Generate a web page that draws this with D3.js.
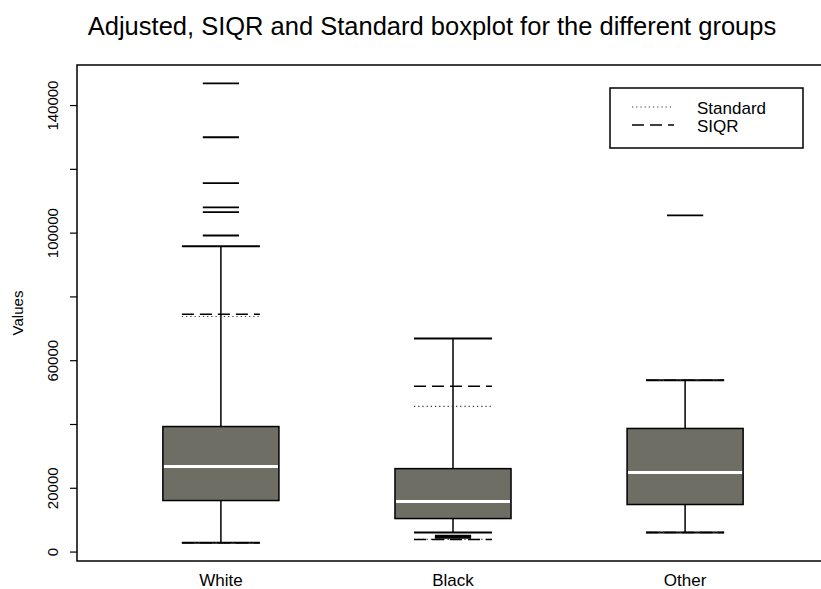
<!DOCTYPE html>
<html>
<head>
<meta charset="utf-8">
<script src="https://cdn.jsdelivr.net/npm/d3@7"></script>
<style>
  body { margin: 0; background: #fff; }
  text { font-family: "Liberation Sans", Arial, sans-serif; fill: #000; }
</style>
</head>
<body>
<div id="chart"></div>
<script>
// data
var groups = ["White", "Black", "Other"];
var q1 = [16000, 10350, 14750];
var medians = [26700, 15700, 24800];
var q3 = [39200, 26000, 38600];
var adjLow = [2800, 6000, 6000];
var adjHigh = [95700, 66800, 53700];
var stdLow = [2800, 3800, 6000];
var stdHigh = [73700, 45500, 53700];
var siqrLow = [2800, 3800, 6000];
var siqrHigh = [74400, 51800, 53700];
var outliers = [
    [99100, 106400, 107900, 115500, 129900, 146800],
    [4300, 4700, 5000],
    [105400]
];
var yTicks = [0, 20000, 40000, 60000, 80000, 100000, 120000, 140000];
var yTickLabels = ["0", "20000", "", "60000", "", "100000", "", "140000"];

var svgWidth = 821;
var svgHeight = 589;

var svg = d3.select("#chart")
    .append("svg")
    .attr("width", svgWidth)
    .attr("height", svgHeight);

// R style: 4% padding on both axes
var allVals = [].concat(adjLow, adjHigh, stdLow, siqrLow, d3.merge(outliers));
var yMin = d3.min(allVals), yMax = d3.max(allVals);
var yPad = (yMax - yMin) * 0.04;

var xScale = d3.scaleLinear()
    .domain([0.38, 3.62])
    .range([77, 829]);

var yScale = d3.scaleLinear()
    .domain([yMin - yPad, yMax + yPad])
    .range([561, 65]);

var boxHalf = 0.25, capHalf = 0.168, outHalf = 0.078;

// plot frame
svg.append("rect")
    .attr("x", xScale.range()[0])
    .attr("y", yScale.range()[1])
    .attr("width", xScale.range()[1] - xScale.range()[0])
    .attr("height", yScale.range()[0] - yScale.range()[1])
    .attr("fill", "none")
    .attr("stroke", "#000")
    .attr("stroke-width", 1.5);

// y axis
var leftAxis = d3.axisLeft(yScale)
    .tickValues(yTicks)
    .tickSize(7)
    .tickFormat(d => yTickLabels[yTicks.indexOf(d)]);

var yAxis = svg.append("g")
    .attr("transform", `translate(${xScale.range()[0]}, 0)`)
    .call(leftAxis);

yAxis.select(".domain").remove();
yAxis.selectAll("line").attr("stroke", "#000").attr("stroke-width", 1.2);
yAxis.selectAll("text")
    .attr("transform", "rotate(-90)")
    .attr("x", 0)
    .attr("dy", 0)
    .attr("y", -19)
    .attr("text-anchor", "middle")
    .attr("fill", "#000")
    .style("font-size", "15px")
    .style("font-family", "Liberation Sans, Arial, sans-serif");

// draw each group
groups.forEach(function(g, i) {
    var cx = i + 1;
    var grp = svg.append("g");

    // whiskers
    grp.append("line")
        .attr("x1", xScale(cx)).attr("x2", xScale(cx))
        .attr("y1", yScale(q3[i])).attr("y2", yScale(adjHigh[i]))
        .attr("stroke", "#000").attr("stroke-width", 1.5);
    grp.append("line")
        .attr("x1", xScale(cx)).attr("x2", xScale(cx))
        .attr("y1", yScale(q1[i])).attr("y2", yScale(adjLow[i]))
        .attr("stroke", "#000").attr("stroke-width", 1.5);

    // caps
    [adjLow[i], adjHigh[i]].forEach(function(v) {
        grp.append("line")
            .attr("x1", xScale(cx - capHalf)).attr("x2", xScale(cx + capHalf))
            .attr("y1", yScale(v)).attr("y2", yScale(v))
            .attr("stroke", "#000").attr("stroke-width", 2);
    });

    // box
    grp.append("rect")
        .attr("x", xScale(cx - boxHalf))
        .attr("y", yScale(q3[i]))
        .attr("width", xScale(cx + boxHalf) - xScale(cx - boxHalf))
        .attr("height", yScale(q1[i]) - yScale(q3[i]))
        .attr("fill", "#6e6e65")
        .attr("stroke", "#000")
        .attr("stroke-width", 1.5);

    // median
    grp.append("line")
        .attr("x1", xScale(cx - boxHalf) + 1).attr("x2", xScale(cx + boxHalf) - 1)
        .attr("y1", yScale(medians[i])).attr("y2", yScale(medians[i]))
        .attr("stroke", "#fff").attr("stroke-width", 3);

    // outliers as short dashes
    outliers[i].forEach(function(v) {
        grp.append("line")
            .attr("x1", xScale(cx - outHalf)).attr("x2", xScale(cx + outHalf))
            .attr("y1", yScale(v)).attr("y2", yScale(v))
            .attr("stroke", "#000").attr("stroke-width", 1.8);
    });

    // standard fences (dotted)
    [stdLow[i], stdHigh[i]].forEach(function(v) {
        grp.append("line")
            .attr("x1", xScale(cx - capHalf)).attr("x2", xScale(cx + capHalf))
            .attr("y1", yScale(v)).attr("y2", yScale(v))
            .attr("stroke", "#333").attr("stroke-width", 1.2)
            .attr("stroke-dasharray", "1.2,3");
    });

    // SIQR fences (dashed)
    [siqrLow[i], siqrHigh[i]].forEach(function(v) {
        grp.append("line")
            .attr("x1", xScale(cx - capHalf)).attr("x2", xScale(cx + capHalf))
            .attr("y1", yScale(v)).attr("y2", yScale(v))
            .attr("stroke", "#000").attr("stroke-width", 1.5)
            .attr("stroke-dasharray", "12,6");
    });

    // group label
    svg.append("text")
        .attr("x", xScale(cx))
        .attr("y", 586)
        .attr("text-anchor", "middle")
        .style("font-size", "17px")
        .text(g);
});

// axis label
svg.append("text")
    .attr("transform", `translate(23, ${(yScale.range()[0] + yScale.range()[1]) / 2}) rotate(-90)`)
    .attr("text-anchor", "middle")
    .style("font-size", "15px")
    .text("Values");

// title
svg.append("text")
    .attr("x", 432)
    .attr("y", 35)
    .attr("text-anchor", "middle")
    .style("font-size", "25.5px")
    .text("Adjusted, SIQR and Standard boxplot for the different groups");

// legend
var legend = svg.append("g").attr("transform", "translate(610, 88)");
legend.append("rect")
    .attr("width", 193).attr("height", 60)
    .attr("fill", "#fff").attr("stroke", "#000").attr("stroke-width", 1.5);
legend.append("line")
    .attr("x1", 22).attr("x2", 62).attr("y1", 19).attr("y2", 19)
    .attr("stroke", "#333").attr("stroke-width", 1.2).attr("stroke-dasharray", "1.2,3");
legend.append("line")
    .attr("x1", 22).attr("x2", 64).attr("y1", 37).attr("y2", 37)
    .attr("stroke", "#000").attr("stroke-width", 1.5).attr("stroke-dasharray", "12,6");
legend.append("text").attr("x", 87).attr("y", 26).style("font-size", "17px").text("Standard");
legend.append("text").attr("x", 87).attr("y", 44).style("font-size", "17px").text("SIQR");
</script>
</body>
</html>
